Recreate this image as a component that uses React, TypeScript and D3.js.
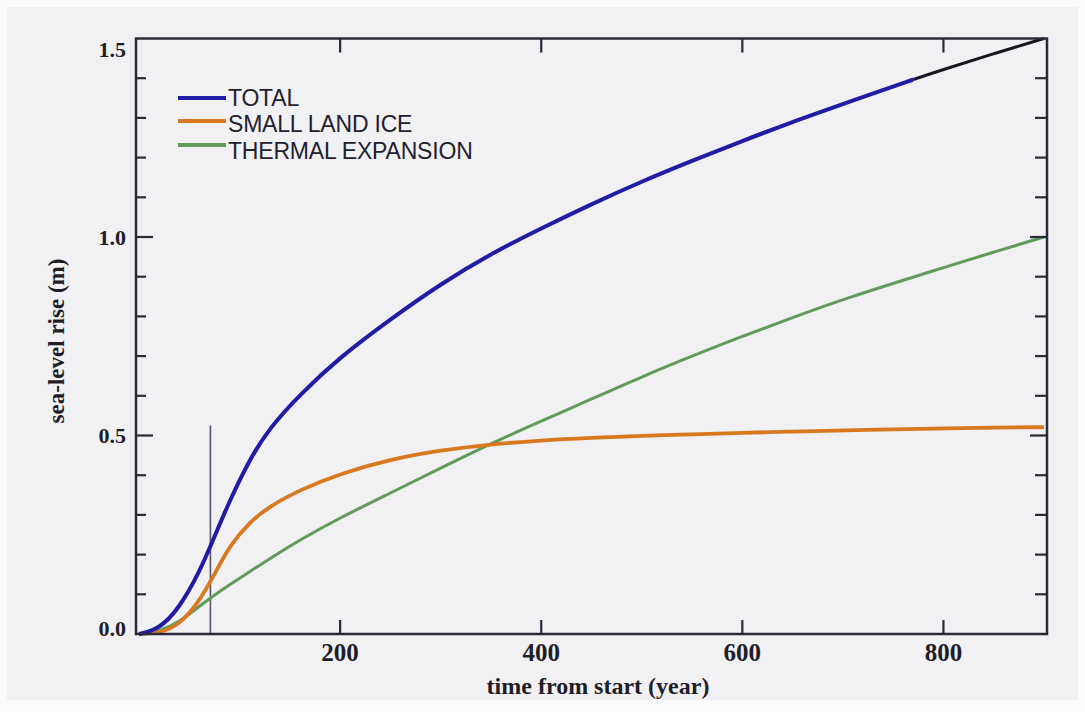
import React, { useEffect, useRef } from "react";
import * as d3 from "d3";

// values
const years = [0, 20, 40, 60, 75, 90, 110, 130, 160, 200, 250, 300, 350, 400, 450, 500, 550, 600, 650, 700, 770, 800, 850, 900];
const total = [0, 0.012, 0.065, 0.155, 0.245, 0.335, 0.44, 0.52, 0.603, 0.698, 0.793, 0.882, 0.958, 1.022, 1.083, 1.14, 1.192, 1.242, 1.29, 1.335, 1.397, 1.422, 1.462, 1.5];
const smallLandIce = [0, 0.002, 0.022, 0.082, 0.15, 0.222, 0.282, 0.322, 0.363, 0.404, 0.44, 0.463, 0.478, 0.488, 0.494, 0.499, 0.503, 0.507, 0.51, 0.513, 0.516, 0.518, 0.52, 0.521];
const thermalExpansion = [0, 0.006, 0.03, 0.07, 0.098, 0.124, 0.157, 0.19, 0.237, 0.293, 0.355, 0.418, 0.48, 0.536, 0.592, 0.648, 0.7, 0.75, 0.797, 0.843, 0.899, 0.923, 0.962, 1.0];

// the total curve changes to black after this year in the original
const totalBlackFrom = 770;
const markerYear = 71;
const markerTop = 0.525;

const xTicks = [200, 400, 600, 800];
const yMinorTicks = [0.1, 0.2, 0.3, 0.4, 0.6, 0.7, 0.8, 0.9, 1.1, 1.2, 1.3, 1.4];
const yMajorTicks = [0.5, 1.0];
const yLabels = [0, 0.5, 1.0, 1.5];

const legendLabels = ["TOTAL", "SMALL LAND ICE", "THERMAL EXPANSION"];
const legendColors = ["#1f1ca6", "#d9791f", "#5f9c57"];

export default function App() {
  const svgRef = useRef<SVGSVGElement>(null);
  const width = 1085;
  const height = 712;

  useEffect(() => {
    const svg = d3.select(svgRef.current);
    svg.selectAll("*").remove();

    const left = 136;
    const right = 1047;
    const top = 38.5;
    const bottom = 634;

    const x = d3.scaleLinear().domain([-3, 903]).range([left, right]);
    const y = d3.scaleLinear().domain([0, 1.5]).range([bottom, top]);

    // scanned page background
    svg.append("rect").attr("width", width).attr("height", height).attr("fill", "#fbfbfc");
    svg
      .append("rect")
      .attr("x", 7)
      .attr("y", 7)
      .attr("width", 1071)
      .attr("height", 693)
      .attr("fill", "#f1f0f2");

    const axisColor = "#2b2a38";
    const serif = "'Liberation Serif', 'Times New Roman', serif";
    const sans = "'Liberation Sans', Arial, sans-serif";

    const defs = svg.append("defs");
    defs
      .append("clipPath")
      .attr("id", "clip-blue")
      .append("rect")
      .attr("x", 0)
      .attr("y", 0)
      .attr("width", x(totalBlackFrom))
      .attr("height", height);
    defs
      .append("clipPath")
      .attr("id", "clip-black")
      .append("rect")
      .attr("x", x(totalBlackFrom))
      .attr("y", 0)
      .attr("width", width - x(totalBlackFrom))
      .attr("height", height);

    const line = d3
      .line<[number, number]>()
      .x((d) => x(d[0]))
      .y((d) => y(d[1]))
      .curve(d3.curveBasis);

    const pts = (vals: number[]) => years.map((yr, i) => [yr, vals[i]] as [number, number]);

    // vertical marker
    svg
      .append("line")
      .attr("x1", x(markerYear))
      .attr("x2", x(markerYear))
      .attr("y1", y(markerTop))
      .attr("y2", y(0))
      .attr("stroke", "#55546a")
      .attr("stroke-width", 1.6);

    svg
      .append("path")
      .datum(pts(thermalExpansion))
      .attr("fill", "none")
      .attr("stroke", legendColors[2])
      .attr("stroke-width", 3)
      .attr("d", line);

    svg
      .append("path")
      .datum(pts(smallLandIce))
      .attr("fill", "none")
      .attr("stroke", legendColors[1])
      .attr("stroke-width", 3.8)
      .attr("d", line);

    const totalPts = pts(total);
    svg
      .append("path")
      .datum(totalPts)
      .attr("clip-path", "url(#clip-blue)")
      .attr("fill", "none")
      .attr("stroke", legendColors[0])
      .attr("stroke-width", 4)
      .attr("d", line);
    svg
      .append("path")
      .datum(totalPts)
      .attr("clip-path", "url(#clip-black)")
      .attr("fill", "none")
      .attr("stroke", "#161620")
      .attr("stroke-width", 3)
      .attr("d", line);

    // frame
    svg
      .append("rect")
      .attr("x", left)
      .attr("y", top)
      .attr("width", right - left)
      .attr("height", bottom - top)
      .attr("fill", "none")
      .attr("stroke", axisColor)
      .attr("stroke-width", 2.5);

    const ticks = svg.append("g").attr("stroke", axisColor).attr("stroke-width", 2.2);
    xTicks.forEach((t) => {
      ticks.append("line").attr("x1", x(t)).attr("x2", x(t)).attr("y1", bottom).attr("y2", bottom - 14);
      ticks.append("line").attr("x1", x(t)).attr("x2", x(t)).attr("y1", top).attr("y2", top + 14);
    });
    yMinorTicks.forEach((t) => {
      ticks.append("line").attr("x1", left).attr("x2", left + 10).attr("y1", y(t)).attr("y2", y(t));
      ticks.append("line").attr("x1", right).attr("x2", right - 12).attr("y1", y(t)).attr("y2", y(t));
    });
    yMajorTicks.forEach((t) => {
      ticks.append("line").attr("x1", left).attr("x2", left + 17).attr("y1", y(t)).attr("y2", y(t));
      ticks.append("line").attr("x1", right).attr("x2", right - 17).attr("y1", y(t)).attr("y2", y(t));
    });

    // tick labels
    svg
      .append("g")
      .selectAll("text")
      .data(xTicks)
      .join("text")
      .attr("x", (d) => x(d))
      .attr("y", 661)
      .attr("text-anchor", "middle")
      .attr("font-family", serif)
      .attr("font-weight", "bold")
      .attr("font-size", 25)
      .attr("fill", "#1f1e28")
      .text((d) => d);

    svg
      .append("g")
      .selectAll("text")
      .data(yLabels)
      .join("text")
      .attr("x", 126)
      .attr("y", (d) => y(d) + (d === 0 ? -6 : d === 1.5 ? 11 : 0))
      .attr("dy", "0.35em")
      .attr("text-anchor", "end")
      .attr("font-family", serif)
      .attr("font-weight", "bold")
      .attr("font-size", 22)
      .attr("fill", "#1f1e28")
      .text((d) => d3.format(".1f")(d));

    // axis titles
    svg
      .append("text")
      .attr("x", 598)
      .attr("y", 694)
      .attr("text-anchor", "middle")
      .attr("font-family", serif)
      .attr("font-weight", "bold")
      .attr("font-size", 24)
      .attr("fill", "#1f1e28")
      .text("time from start (year)");

    svg
      .append("text")
      .attr("transform", "translate(64,341) rotate(-90)")
      .attr("text-anchor", "middle")
      .attr("font-family", serif)
      .attr("font-weight", "bold")
      .attr("font-size", 23)
      .attr("fill", "#1f1e28")
      .text("sea-level rise (m)");

    // legend
    const legend = svg.append("g");
    const legendY = [98, 121, 145];
    legendLabels.forEach((label, i) => {
      legend
        .append("line")
        .attr("x1", 178)
        .attr("x2", 226)
        .attr("y1", legendY[i])
        .attr("y2", legendY[i])
        .attr("stroke", legendColors[i])
        .attr("stroke-width", 4);
      legend
        .append("text")
        .attr("x", 228)
        .attr("y", legendY[i] + 8 + i * 3)
        .attr("font-family", sans)
        .attr("font-size", 23)
        .attr("letter-spacing", -0.2)
        .attr("fill", "#22212e")
        .text(label);
    });
  }, []);

  return (
    <svg
      ref={svgRef}
      width={width}
      height={height}
      style={{ position: "absolute", left: 0, top: 0, display: "block" }}
    />
  );
}
